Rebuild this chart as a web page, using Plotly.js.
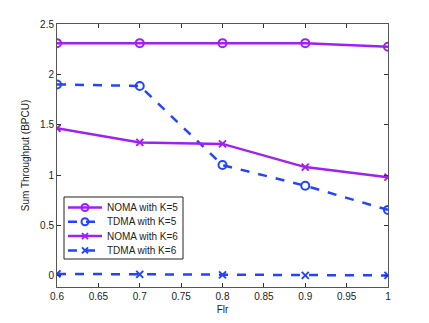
<!DOCTYPE html>
<html>
<head>
<meta charset="utf-8">
<script src="https://cdn.plot.ly/plotly-3.0.1.min.js"></script>
<style>
  html, body { margin: 0; padding: 0; background: #fff; }
  #chart { width: 429px; height: 323px; }
</style>
</head>
<body>
<div id="chart"></div>
<script>
const flr = [0.6, 0.7, 0.8, 0.9, 1.0];
const nomaK5 = [2.31, 2.31, 2.31, 2.31, 2.275];
const tdmaK5 = [1.9, 1.885, 1.1, 0.895, 0.655];
const nomaK6 = [1.465, 1.325, 1.31, 1.08, 0.98];
const tdmaK6 = [0.02, 0.015, 0.01, 0.005, 0.005];
const seriesNames = ['NOMA with K=5', 'TDMA with K=5', 'NOMA with K=6', 'TDMA with K=6'];

const purple = '#a020f0';
const blue = '#2244ff';
const font = 'Liberation Sans, Arial, sans-serif';

// plot box in pixels (width 429, height 323)
const W = 429, H = 323;
const M = { l: 57, r: 41, t: 24, b: 36 };
const PW = W - M.l - M.r, PH = H - M.t - M.b;
const px = x => (x - M.l) / PW;
const py = y => (H - M.b - y) / PH;

const styles = [
    { color: purple, dash: 'solid', symbol: 'circle-open', size: 8 },
    { color: blue, dash: 'dash', symbol: 'circle-open', size: 8 },
    { color: purple, dash: 'solid', symbol: 'x-thin-open', size: 7 },
    { color: blue, dash: 'dash', symbol: 'x-thin-open', size: 7 }
];

const traces = [nomaK5, tdmaK5, nomaK6, tdmaK6].map((y, i) => ({
    x: flr,
    y: y,
    name: seriesNames[i],
    type: 'scatter',
    mode: 'lines+markers',
    showlegend: false,
    line: { color: styles[i].color, width: 2.5, dash: styles[i].dash },
    marker: {
        symbol: styles[i].symbol,
        size: styles[i].size,
        color: styles[i].color,
        line: { color: styles[i].color, width: 2 }
    }
}));

// hand-built legend (Plotly's native rows are too tall for this box)
const shapes = [{
    type: 'rect', xref: 'paper', yref: 'paper',
    x0: px(64), x1: px(183), y0: py(259), y1: py(197),
    fillcolor: '#fff', line: { color: '#222', width: 1 }, layer: 'above'
}];
const annotations = [];
seriesNames.forEach((name, i) => {
    const s = styles[i];
    const cy = 207.5 + i * 14.3;
    shapes.push({
        type: 'line', xref: 'paper', yref: 'paper', layer: 'above',
        x0: px(68), x1: px(102), y0: py(cy), y1: py(cy),
        line: { color: s.color, width: 2.5, dash: s.dash }
    });
    if (s.symbol === 'circle-open') {
        shapes.push({
            type: 'circle', xref: 'paper', yref: 'paper', layer: 'above',
            x0: px(85 - 3.5), x1: px(85 + 3.5), y0: py(cy + 3.5), y1: py(cy - 3.5),
            line: { color: s.color, width: 2 }
        });
    } else {
        [-1, 1].forEach(d => shapes.push({
            type: 'line', xref: 'paper', yref: 'paper', layer: 'above',
            x0: px(85 - 3), x1: px(85 + 3), y0: py(cy - 3 * d), y1: py(cy + 3 * d),
            line: { color: s.color, width: 2 }
        }));
    }
    annotations.push({
        xref: 'paper', yref: 'paper', x: px(105), y: py(cy),
        xanchor: 'left', yanchor: 'middle', showarrow: false,
        text: name, font: { family: font, size: 10, color: '#222' }
    });
});

const axisCommon = {
    showgrid: false,
    zeroline: false,
    showline: true,
    linecolor: '#555',
    linewidth: 1,
    mirror: 'ticks',
    ticks: 'inside',
    ticklen: 4,
    tickcolor: '#333',
    tickfont: { family: font, size: 10, color: '#222' }
};

const layout = {
    width: W,
    height: H,
    margin: M,
    paper_bgcolor: '#fff',
    plot_bgcolor: '#fff',
    showlegend: false,
    xaxis: Object.assign({}, axisCommon, {
        range: [0.6, 1.0],
        tickvals: [0.6, 0.65, 0.7, 0.75, 0.8, 0.85, 0.9, 0.95, 1],
        ticktext: ['0.6', '0.65', '0.7', '0.75', '0.8', '0.85', '0.9', '0.95', '1'],
        title: { text: 'Flr', font: { family: font, size: 10, color: '#222' }, standoff: 4 }
    }),
    yaxis: Object.assign({}, axisCommon, {
        range: [-0.11, 2.5],
        tickvals: [0, 0.5, 1, 1.5, 2, 2.5],
        ticktext: ['0', '0.5', '1', '1.5', '2', '2.5'],
        title: { text: 'Sum Throughput (BPCU)', font: { family: font, size: 10, color: '#222' }, standoff: 8 }
    }),
    shapes: shapes,
    annotations: annotations
};

Plotly.newPlot('chart', traces, layout, { displayModeBar: false, staticPlot: true });
</script>
</body>
</html>
